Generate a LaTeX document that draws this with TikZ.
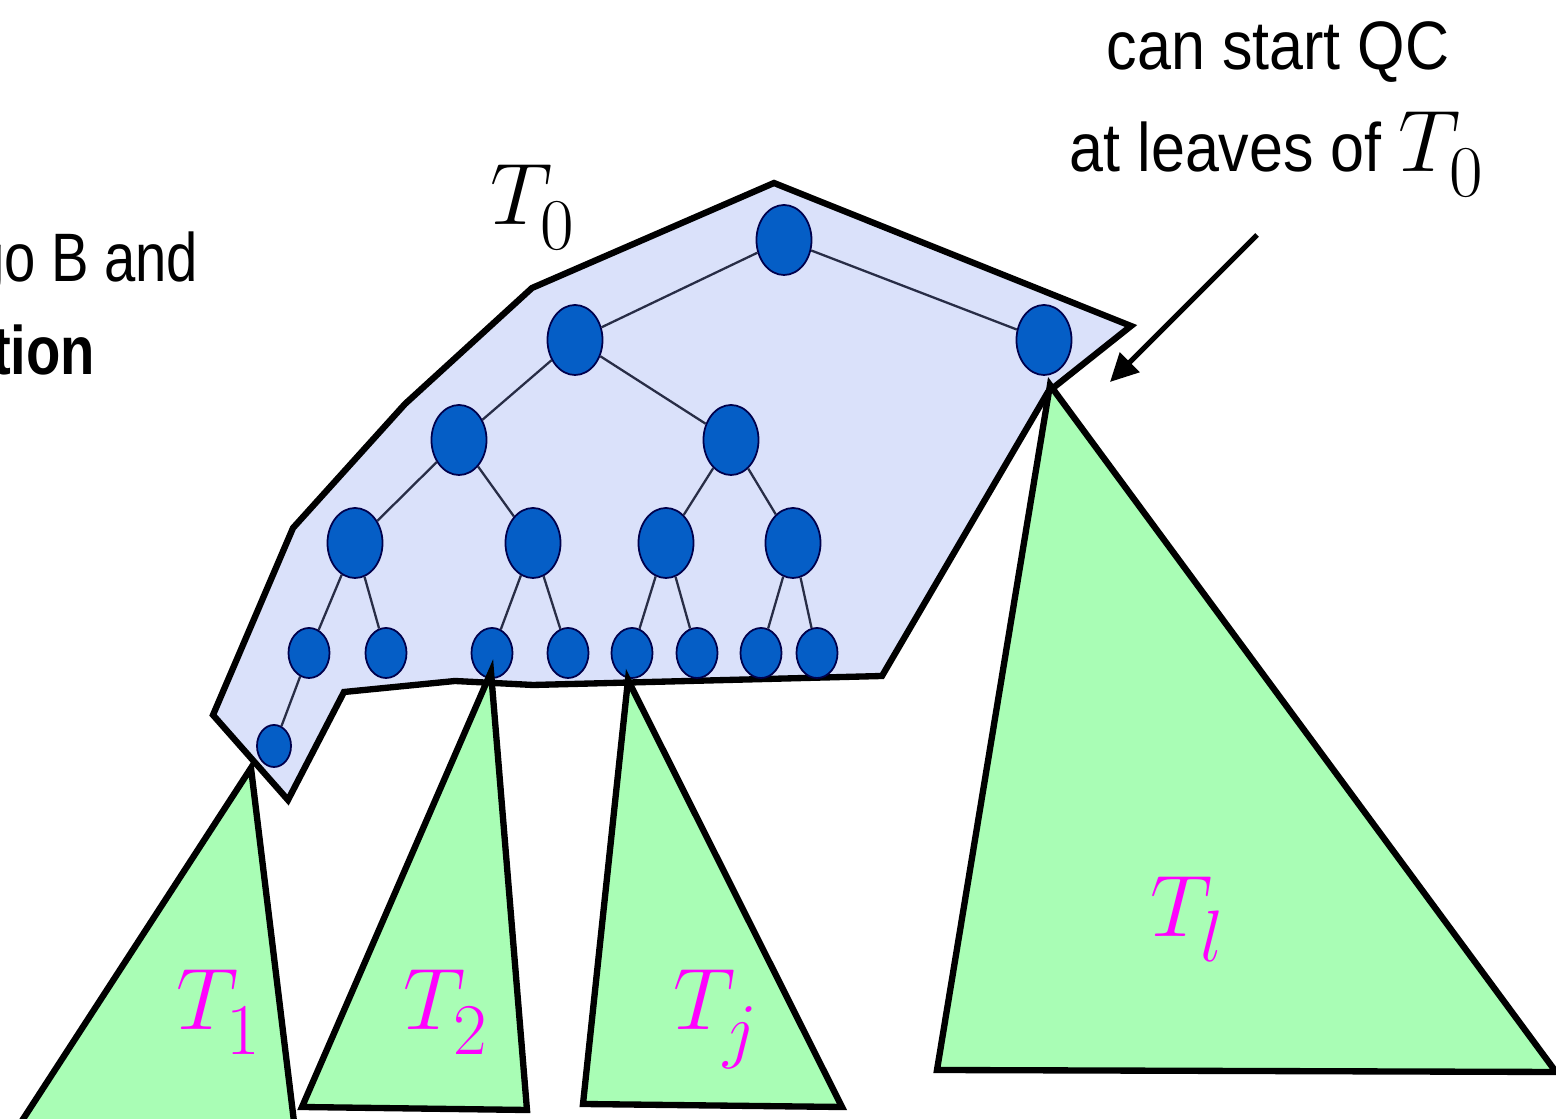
\documentclass[tikz,border=0pt]{standalone}
\usepackage{fontspec}
\newfontfamily\rsans[FakeStretch=0.89]{Liberation Sans}
\newfontfamily\lsans[FakeStretch=0.82]{Liberation Sans}
\usetikzlibrary{shapes.geometric,arrows.meta}
\DeclareMathSizes{26}{26}{20.8}{16}
\newcommand\Tsub[1]{T_{\lower3.2pt\hbox{$\scriptstyle #1$}}}
\definecolor{regionfill}{RGB}{218,225,250}
\definecolor{nodeblue}{RGB}{5,94,198}
\definecolor{treegreen}{RGB}{169,253,181}
\definecolor{edgegray}{RGB}{40,45,70}
\definecolor{labelmag}{RGB}{255,0,255}
\begin{document}
\begin{tikzpicture}[x=0.01cm,y=-0.01cm,
  tnode/.style={ellipse, draw=black!70!blue, line width=0.5pt, fill=nodeblue, inner sep=0pt},
  lvA/.style={tnode, minimum width=0.55cm, minimum height=0.70cm},
  lvB/.style={tnode, minimum width=0.41cm, minimum height=0.50cm},
  lvC/.style={tnode, minimum width=0.34cm, minimum height=0.42cm},
  tedge/.style={draw=edgegray, line width=0.65pt},
  subtree/.style={draw=black, line width=1.8pt, fill=treegreen, line join=miter},
  region/.style={draw=black, line width=1.8pt, fill=regionfill, line join=miter},
  tlabel/.style={anchor=base west, inner sep=0pt, font=\fontsize{26}{30}\selectfont},
  sanstext/.style={inner sep=0pt, font=\rsans\fontsize{19.5}{23}\selectfont},
  lefttext/.style={inner sep=0pt, anchor=base east, font=\lsans\fontsize{19.5}{23}\selectfont},
]
\useasboundingbox (0,0) rectangle (1556,1119);
\clip (0,0) rectangle (1556,1119);

% region T0
\path[region] (774,183) -- (1131,326) -- (1048,392) -- (882,676) -- (533,685)
  -- (455,681) -- (344,692) -- (288,800) -- (213,715) -- (293,528)
  -- (405,404) -- (532,288) -- cycle;

% tree nodes
\node[lvA] (r)   at (784,240) {};
\node[lvA] (a)   at (575,340) {};
\node[lvA] (b)   at (1044,340) {};
\node[lvA] (aa)  at (459,440) {};
\node[lvA] (ab)  at (731,440) {};
\node[lvA] (aaa) at (355,543) {};
\node[lvA] (aab) at (533,543) {};
\node[lvA] (aba) at (666,543) {};
\node[lvA] (abb) at (793,543) {};
\node[lvB] (l1)  at (309,653) {};
\node[lvB] (l2)  at (386,653) {};
\node[lvB] (l3)  at (492,653) {};
\node[lvB] (l4)  at (568,653) {};
\node[lvB] (l5)  at (632,653) {};
\node[lvB] (l6)  at (697,653) {};
\node[lvB] (l7)  at (761,653) {};
\node[lvB] (l8)  at (817,653) {};
\node[lvC] (m1)  at (274,746) {};

% tree edges
\draw[tedge] (r) -- (a);
\draw[tedge] (r) -- (b);
\draw[tedge] (a) -- (aa);
\draw[tedge] (a) -- (ab);
\draw[tedge] (aa) -- (aaa);
\draw[tedge] (aa) -- (aab);
\draw[tedge] (ab) -- (aba);
\draw[tedge] (ab) -- (abb);
\draw[tedge] (aaa) -- (l1);
\draw[tedge] (aaa) -- (l2);
\draw[tedge] (aab) -- (l3);
\draw[tedge] (aab) -- (l4);
\draw[tedge] (aba) -- (l5);
\draw[tedge] (aba) -- (l6);
\draw[tedge] (abb) -- (l7);
\draw[tedge] (abb) -- (l8);
\draw[tedge] (l1) -- (m1);

% subtrees
\path[subtree] (251,768) -- (295,1130) -- (16,1130) -- cycle;
\path[subtree] (491,672) -- (527,1110) -- (302,1107) -- cycle;
\path[subtree] (628,680) -- (842,1107) -- (583,1104) -- cycle;
\path[subtree] (1050,385) -- (1556,1072) -- (937,1070) -- cycle;

% labels
\node[tlabel] (t0) at (490,225) {$\Tsub{0}$};
\node[tlabel, text=labelmag] (t1) at (176,1030) {$\Tsub{1}$};
\node[tlabel, text=labelmag] (t2) at (403,1030) {$\Tsub{2}$};
\node[tlabel, text=labelmag] (tj) at (673,1030) {$\Tsub{j}$};
\node[tlabel, text=labelmag] (tl) at (1150,937) {$\Tsub{l}$};

% texts
\node[lefttext] (lt1) at (199,282) {go B and};
\node[lefttext, font=\lsans\bfseries\fontsize{19.5}{23}\selectfont] (lt2) at (96,375) {tion};
\node[sanstext, anchor=base] (rt1) at (1278,70) {can start QC};
\node[sanstext, anchor=base] (rt2) at (1277,172) {at leaves of {\fontsize{26}{30}\selectfont$\Tsub{0}$}};

% arrow
\coordinate (arS) at (1257,235);
\coordinate (arE) at (1110,382);
\draw[line width=1.5pt, -{Triangle[length=0.28cm,width=0.27cm]}] (arS) -- (arE);
\end{tikzpicture}
\end{document}
